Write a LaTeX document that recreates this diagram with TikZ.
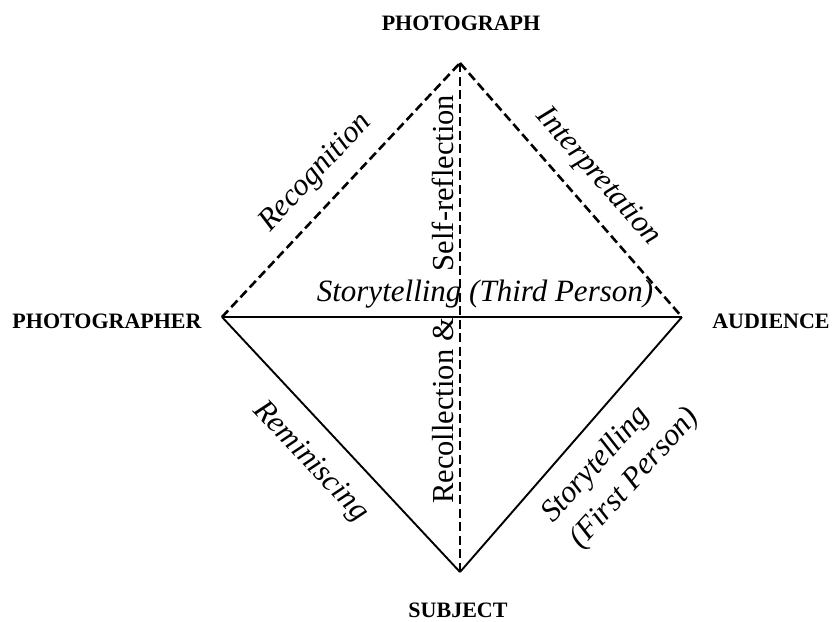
\documentclass[tikz,border=0pt]{standalone}
\usepackage{fontspec}
\setmainfont{Liberation Serif}
\begin{document}
\begin{tikzpicture}[x=1pt,y=-1pt,
  vlabel/.style={font=\fontsize{22}{24}\selectfont\bfseries, inner sep=0pt, anchor=base},
  elabel/.style={font=\fontsize{31}{38}\selectfont\itshape, inner sep=0pt},
  vtext/.style={font=\fontsize{30.5}{36}\selectfont, inner sep=0pt},
  dashedge/.style={line width=2.6pt, dash pattern=on 9pt off 4.5pt},
  solidedge/.style={line width=1.9pt}]
\useasboundingbox[fill=white] (0,0) rectangle (834,621);
% vertices
\coordinate (T) at (460,63);
\coordinate (L) at (222,317);
\coordinate (R) at (682,317);
\coordinate (B) at (460,572);
% vertex labels
\node[vlabel] (photo) at (461,30) {PHOTOGRAPH};
\node[vlabel] (photographer) at (107,328) {PHOTOGRAPHER};
\node[vlabel] (audience) at (771,328) {AUDIENCE};
\node[vlabel] (subject) at (458,617) {SUBJECT};
% edges
\draw[solidedge] (L) -- (R);
\draw[solidedge] (L) -- (B);
\draw[solidedge] (B) -- (R);
\draw[dashedge] (L) -- (T);
\draw[dashedge] (T) -- (R);
\draw[dashedge] (T) -- (B);
% edge labels
\node[elabel, rotate=47] (recog) at (316,173) {Recognition};
\node[elabel, rotate=-48.5] (interp) at (598,177) {Interpretation};
\node[elabel, anchor=base] (story3) at (485,301) {Storytelling (Third Person)};
\node[elabel, rotate=-46.5] (remin) at (310,462) {Reminiscing};
\node[elabel, rotate=48, align=left] (story1) at (621,466) {Storytelling\\(First Person)};
\node[vtext, rotate=90] (selfref) at (443,183) {Self-reflection};
\node[vtext, rotate=90] (recoll) at (443,411) {Recollection \&};
\end{tikzpicture}
\end{document}
